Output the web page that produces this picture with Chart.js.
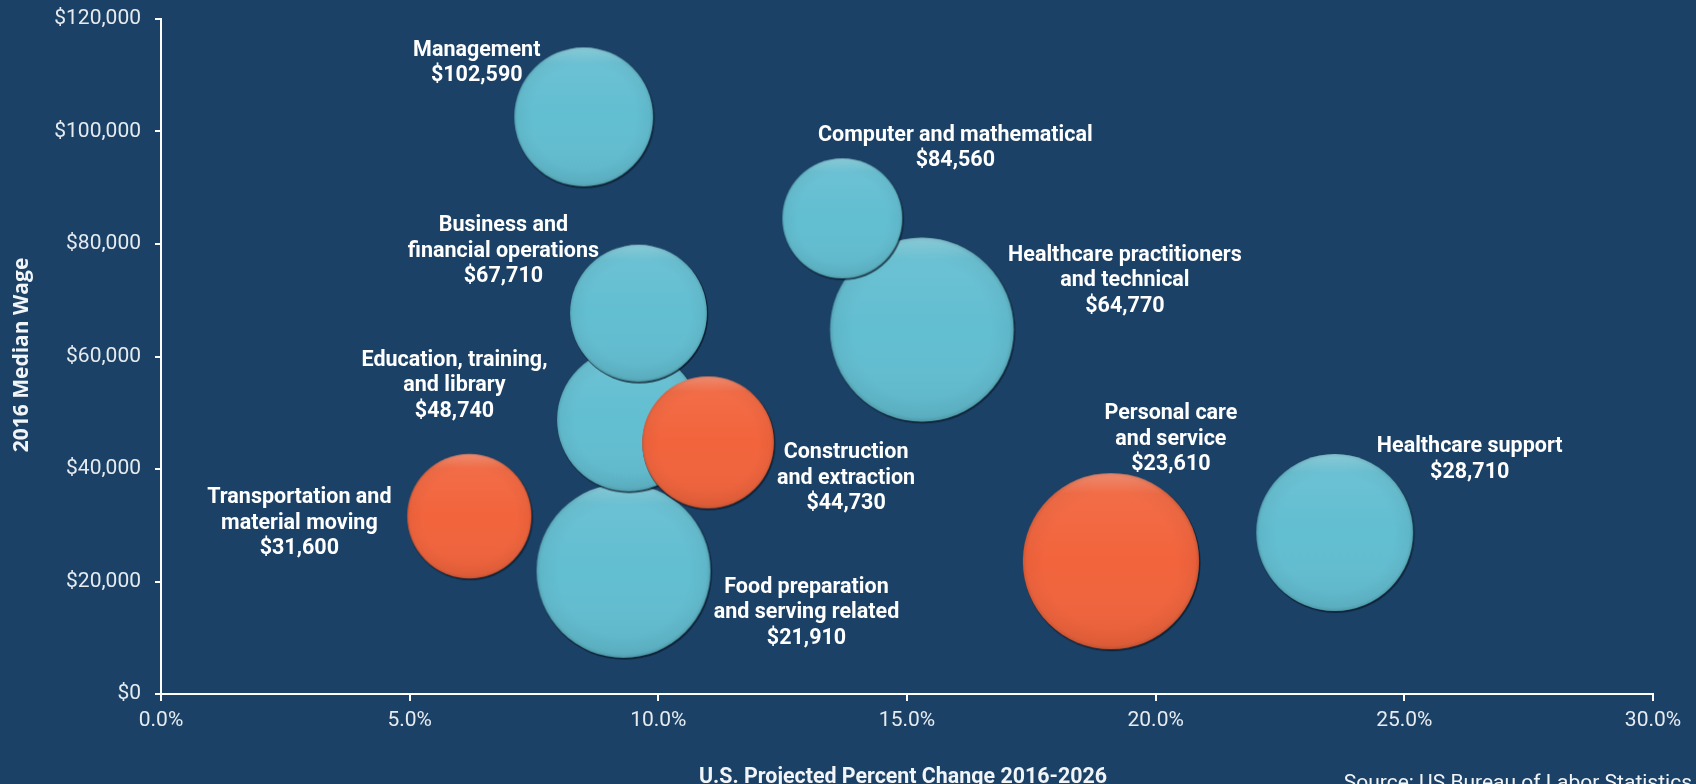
<!DOCTYPE html>
<html>
<head>
<meta charset="utf-8">
<title>Projected growth vs median wage</title>
<script src="https://cdn.jsdelivr.net/npm/chart.js@4.4.1/dist/chart.umd.min.js"></script>
<style>
    html, body { margin: 0; padding: 0; background: #1b4166; overflow: hidden; }
    #wrap { position: relative; width: 1696px; height: 784px; }
</style>
</head>
<body>
<div id="wrap"><canvas id="wageChart"></canvas></div>
<script>
// Occupation groups (listed in drawing order, later ones sit on top)
const occupations = [
    'Food preparation\nand serving related',
    'Education, training,\nand library',
    'Business and\nfinancial operations',
    'Healthcare practitioners\nand technical',
    'Computer and mathematical',
    'Management',
    'Healthcare support',
    'Transportation and\nmaterial moving',
    'Construction\nand extraction',
    'Personal care\nand service'
];
// U.S. projected percent change 2016-2026
const projectedChange = [9.3, 9.4, 9.6, 15.3, 13.7, 8.5, 23.6, 6.2, 11.0, 19.1];
// 2016 median wage
const medianWage = [21910, 48740, 67710, 64770, 84560, 102590, 28710, 31600, 44730, 23610];
// bubble size value
const bubbleValue = [1166, 788, 724, 1300, 558, 745, 949, 598, 672, 1196];
// orange bubbles
const highlighted = [false, false, false, false, false, false, false, true, true, true];

const xTickValues = [0, 5, 10, 15, 20, 25, 30];
const yTickValues = [0, 20000, 40000, 60000, 80000, 100000, 120000];

// label placement relative to bubble centre (px)
const labelOffsets = [
    [183, 42], [-174, -34], [-135, -62], [203, -49], [113, -70],
    [-107, -54], [135, -73], [-170, 7], [138, 36], [60, -122]
];

const CYAN = '#62bed1';
const ORANGE = '#f2643c';
const MAX_RADIUS = 92.5;

function fmtMoney(v) {
    return '$' + v.toLocaleString('en-US');
}

// pre-rendered shaded ball used as point style
function makeBall(r, color) {
    const size = Math.ceil(2 * r + 8);
    const c = document.createElement('canvas');
    c.width = size;
    c.height = size;
    const g = c.getContext('2d');
    const cx = size / 2, cy = size / 2;

    // dark rim / shadow toward lower right
    g.beginPath();
    g.arc(cx + 0.8, cy + 1.2, r, 0, Math.PI * 2);
    g.fillStyle = 'rgba(10,25,40,0.75)';
    g.fill();

    g.beginPath();
    g.arc(cx, cy, r - 0.6, 0, Math.PI * 2);
    g.fillStyle = color;
    g.fill();

    // soft darker edge
    let rg = g.createRadialGradient(cx, cy, r * 0.75, cx, cy, r);
    rg.addColorStop(0, 'rgba(0,0,0,0)');
    rg.addColorStop(0.8, 'rgba(0,0,0,0.04)');
    rg.addColorStop(1, 'rgba(0,0,0,0.16)');
    g.fillStyle = rg;
    g.fill();

    // light rim at top
    let lg = g.createLinearGradient(cx, cy - r, cx, cy + r);
    lg.addColorStop(0, 'rgba(255,255,255,0.28)');
    lg.addColorStop(0.12, 'rgba(255,255,255,0.06)');
    lg.addColorStop(0.5, 'rgba(255,255,255,0)');
    lg.addColorStop(1, 'rgba(0,0,0,0.06)');
    g.fillStyle = lg;
    g.fill();
    return c;
}

function radiusFor(v) {
    const maxV = Math.max(...bubbleValue);
    return MAX_RADIUS * Math.sqrt(v / maxV);
}

function buildDataset(flag, order) {
    const idx = occupations.map((_, i) => i).filter(i => highlighted[i] === flag);
    const color = flag ? ORANGE : CYAN;
    return {
        label: flag ? 'highlight' : 'other',
        order: order,
        indexes: idx,
        data: idx.map(i => ({ x: projectedChange[i], y: medianWage[i], r: radiusFor(bubbleValue[i]) })),
        backgroundColor: color,
        borderWidth: 0,
        pointStyle: idx.map(i => makeBall(radiusFor(bubbleValue[i]), color)),
        clip: false
    };
}

// bubble labels
const bubbleLabels = {
    id: 'bubbleLabels',
    afterDatasetsDraw(chart) {
        const ctx = chart.ctx;
        ctx.save();
        ctx.fillStyle = '#ffffff';
        ctx.font = 'bold 21.5px Roboto';
        ctx.textAlign = 'center';
        ctx.textBaseline = 'middle';
        chart.data.datasets.forEach((ds, di) => {
            const meta = chart.getDatasetMeta(di);
            meta.data.forEach((pt, k) => {
                const i = ds.indexes[k];
                const lines = occupations[i].split('\n').concat(fmtMoney(medianWage[i]));
                const lh = 25.5;
                const cx = pt.x + labelOffsets[i][0];
                const cy = pt.y + labelOffsets[i][1];
                lines.forEach((t, j) => {
                    ctx.fillText(t, cx, cy + (j - (lines.length - 1) / 2) * lh);
                });
            });
        });
        ctx.restore();
    }
};

// axis titles and source note
const titles = {
    id: 'titles',
    afterDraw(chart) {
        const ctx = chart.ctx;
        ctx.save();
        ctx.fillStyle = '#f2f5f8';
        ctx.font = 'bold 21px "Open Sans"';
        ctx.textAlign = 'center';
        ctx.textBaseline = 'middle';
        ctx.translate(22, 355);
        ctx.rotate(-Math.PI / 2);
        ctx.fillText('2016 Median Wage', 0, 0);
        ctx.restore();

        ctx.save();
        ctx.fillStyle = '#f2f5f8';
        ctx.textBaseline = 'alphabetic';
        ctx.font = 'bold 21.4px Roboto';
        ctx.textAlign = 'center';
        ctx.fillText('U.S. Projected Percent Change 2016-2026', 903, 783);
        ctx.font = '21px Roboto';
        ctx.textAlign = 'right';
        ctx.fillText('Source: US Bureau of Labor Statistics', 1692, 789);
        ctx.restore();
    }
};

function initChart() {
    Chart.defaults.font.family = 'Roboto';
    const ctx = document.getElementById('wageChart').getContext('2d');
    new Chart(ctx, {
        type: 'bubble',
        data: {
            datasets: [buildDataset(true, 0), buildDataset(false, 1)]
        },
        options: {
            responsive: true,
            maintainAspectRatio: false,
            animation: false,
            events: [],
            layout: { autoPadding: false, padding: { top: 19, right: 43, bottom: 0, left: 0 } },
            plugins: {
                legend: { display: false },
                tooltip: { enabled: false }
            },
            scales: {
                x: {
                    type: 'linear',
                    min: 0,
                    max: 30,
                    afterFit: s => { s.height = 90; },
                    afterBuildTicks: s => { s.ticks = xTickValues.map(v => ({ value: v })); },
                    grid: { drawOnChartArea: false, drawTicks: true, tickLength: 7, color: '#ffffff', lineWidth: 2 },
                    border: { display: true, color: '#ffffff', width: 2 },
                    ticks: {
                        color: '#e6ebf0',
                        font: { size: 21 },
                        padding: 7,
                        maxRotation: 0,
                        callback: v => v.toFixed(1) + '%'
                    }
                },
                y: {
                    type: 'linear',
                    min: 0,
                    max: 120000,
                    afterFit: s => { s.width = 161; s.paddingTop = 0; s.paddingBottom = 0; },
                    afterBuildTicks: s => { s.ticks = yTickValues.map(v => ({ value: v })); },
                    grid: { drawOnChartArea: false, drawTicks: true, tickLength: 6, color: '#ffffff', lineWidth: 2 },
                    border: { display: true, color: '#ffffff', width: 2 },
                    ticks: {
                        color: '#e6ebf0',
                        font: { size: 21 },
                        padding: 14,
                        callback: v => fmtMoney(v)
                    }
                }
            }
        },
        plugins: [bubbleLabels, titles]
    });
}

initChart();
</script>
</body>
</html>
